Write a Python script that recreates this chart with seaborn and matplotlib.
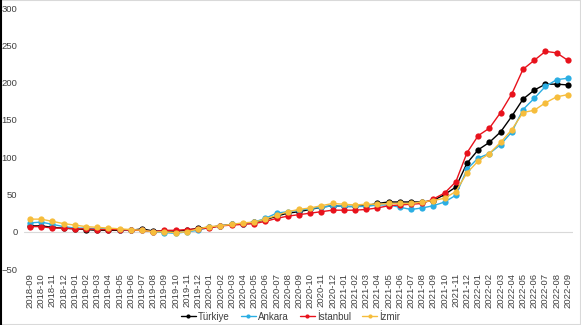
import matplotlib
matplotlib.use("Agg")
import matplotlib.pyplot as plt
import seaborn as sns
import pandas as pd
from matplotlib.lines import Line2D
from matplotlib.patches import Rectangle

months = [
    "2018-09", "2018-10", "2018-11", "2018-12",
    "2019-01", "2019-02", "2019-03", "2019-04", "2019-05", "2019-06",
    "2019-07", "2019-08", "2019-09", "2019-10", "2019-11", "2019-12",
    "2020-01", "2020-02", "2020-03", "2020-04", "2020-05", "2020-06",
    "2020-07", "2020-08", "2020-09", "2020-10", "2020-11", "2020-12",
    "2021-01", "2021-02", "2021-03", "2021-04", "2021-05", "2021-06",
    "2021-07", "2021-08", "2021-09", "2021-10", "2021-11", "2021-12",
    "2022-01", "2022-02", "2022-03", "2022-04", "2022-05", "2022-06",
    "2022-07", "2022-08", "2022-09",
]

turkiye = [8, 8, 6, 5, 4, 3, 2, 2, 2, 2, 4, 1, 1, 1, 2, 5,
           6, 8, 10, 11, 13, 16, 21, 25, 27, 30, 33, 35,
           34, 34, 35, 38, 40, 40, 40, 40, 42, 50, 60, 92,
           110, 120, 134, 155, 178, 190, 198, 198, 197]
ankara = [12, 13, 10, 7, 5, 5, 4, 4, 3, 2, 2, 0, -1, -2, 0, 2,
          6, 8, 10, 11, 13, 18, 25, 27, 29, 31, 33, 35,
          34, 34, 34, 36, 36, 33, 30, 32, 35, 40, 49, 84,
          99, 105, 117, 134, 164, 179, 195, 204, 206]
istanbul = [7, 7, 5, 5, 4, 4, 3, 3, 3, 2, 2, 0, 2, 2, 3, 4,
            5, 8, 9, 10, 11, 14, 18, 21, 23, 25, 27, 29,
            29, 29, 30, 32, 35, 36, 37, 38, 44, 52, 67, 106,
            129, 139, 160, 185, 218, 230, 242, 240, 230]
izmir = [17, 17, 14, 11, 9, 7, 6, 5, 4, 3, 2, 0, 0, -1, 0, 4,
         7, 8, 10, 12, 13, 17, 22, 27, 30, 32, 35, 38,
         37, 36, 37, 37, 38, 38, 38, 40, 42, 45, 54, 79,
         95, 105, 120, 137, 160, 163, 173, 181, 184]

series_names = ["Türkiye", "Ankara", "İstanbul", "İzmir"]
series_values = [turkiye, ankara, istanbul, izmir]
colors = ["#000000", "#2BAEE3", "#E8121C", "#F6BD3C"]

rows = []
for name, vals in zip(series_names, series_values):
    for m, v in zip(months, vals):
        rows.append({"month": m, "value": v, "city": name})
df = pd.DataFrame(rows)

sns.set_theme(style="white")
plt.rcParams["font.family"] = ["Liberation Sans", "DejaVu Sans"]

fig = plt.figure(figsize=(5.81, 3.25), dpi=100)
ax = fig.add_axes([0.042, 0.172, 0.945, 0.803])

sns.lineplot(data=df, x="month", y="value", hue="city",
             hue_order=series_names, palette=dict(zip(series_names, colors)),
             sort=False, marker="o", markersize=4.5, markeredgewidth=0,
             linewidth=1.0, ax=ax, legend=False)

ax.axhline(0, color="#d9d9d9", lw=0.8, zorder=0)
ax.set_ylim(-50, 300)
ax.set_xlim(-0.5, len(months) - 0.5)
ax.set_yticks([-50, 0, 50, 100, 150, 200, 250, 300])
ax.set_xticks(range(len(months)))
ax.set_xticklabels(months, rotation=90, fontsize=6.8, color="#404040")
ax.tick_params(axis="y", labelsize=6.8, labelcolor="#404040", length=0, pad=5)
ax.tick_params(axis="x", length=0, pad=3)
ax.set_xlabel("")
ax.set_ylabel("")
for s in ax.spines.values():
    s.set_visible(False)
ax.grid(False)

handles = [Line2D([0], [0], color=c, lw=1.0, marker="o", markersize=3,
                  markeredgewidth=0) for c in colors]
fig.legend(handles, series_names, loc="center", bbox_to_anchor=(0.5, 0.026),
           ncol=4, frameon=False, fontsize=7, handlelength=1.6,
           handletextpad=0.2, columnspacing=1.1, labelcolor="#404040")

fig.patches.append(Rectangle((0, 0), 1, 1, transform=fig.transFigure,
                             fill=False, edgecolor="#d9d9d9", lw=1.5))
fig.lines.append(Line2D([0.001, 0.001], [0, 1], transform=fig.transFigure,
                        color="#000000", lw=1.5))

fig.savefig("out.png", dpi=100)
